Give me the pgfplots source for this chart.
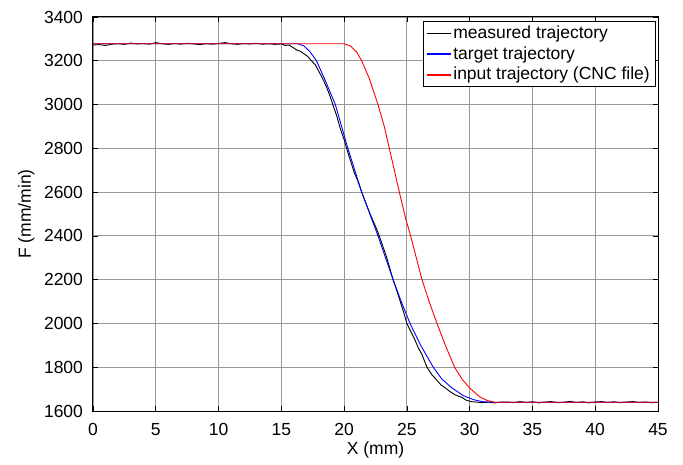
\documentclass[border=0pt]{standalone}
\usepackage{fontspec}
\setmainfont{Liberation Sans}
\usepackage{pgfplots}
\pgfplotsset{compat=1.18}
\begin{document}
\fontsize{17.5bp}{21bp}\selectfont
\begin{tikzpicture}
\begin{axis}[
  scale only axis,
  width=565bp, height=394bp,
  xmin=0, xmax=45, ymin=1600, ymax=3400,
  xtick={0,5,...,45},
  ytick={1600,1800,...,3400},
  /pgf/number format/assume math mode=true,
  /pgf/number format/1000 sep={},
  tick label style={font=\fontsize{17.5bp}{21bp}\selectfont},
  label style={font=\fontsize{17.5bp}{21bp}\selectfont},
  yticklabel style={xshift=-4bp},
  xticklabel style={yshift=-6bp},
  tick align=inside, tick pos=both,
  major tick length=5bp,
  major tick style={black, line width=0.6bp},
  grid=major,
  major grid style={black!40, line width=0.8bp},
  axis line style={black, line width=1bp},
  xlabel={X (mm)},
  ylabel={F (mm/min)},
  every axis x label/.style={at={(axis description cs:0.5,-0.099)}, anchor=center},
  every axis y label/.style={at={(axis description cs:-0.118,0.5)}, rotate=90, anchor=center},
  legend cell align=left,
  legend style={at={(rel axis cs:1,1)}, anchor=north east, xshift=-3bp, yshift=-4.5bp,
    draw=black, fill=white, inner xsep=3bp, inner ysep=2bp, row sep=1.5bp,
    font=\fontsize{17.5bp}{21bp}\selectfont},
  legend image code/.code={\draw[#1, line width=1.5bp] (0bp,0bp) -- (24bp,0bp);},
]
\addplot[color=black, line width=0.9bp] coordinates {
(0,3272) (0.5,3274) (1,3270) (1.5,3276) (2,3278) (2.5,3275) (3,3281) (3.5,3277)
(4,3279) (4.5,3276) (5,3283) (5.5,3278) (6,3275) (6.5,3279) (7,3276) (7.5,3280)
(8,3277) (8.5,3274) (9,3278) (9.5,3276) (10,3279) (10.5,3283) (11,3278) (11.5,3275)
(12,3279) (12.5,3277) (13,3280) (13.5,3276) (14,3278) (14.5,3275) (15,3277)
(15.3,3270) (15.6,3272) (15.9,3262) (16.2,3250) (16.5,3244) (16.8,3232) (17.1,3220)
(17.4,3200) (17.7,3182) (18,3150) (18.3,3118) (18.6,3080) (18.9,3035) (19.1,3000)
(19.4,2950) (19.7,2890) (20,2840) (20.2,2800) (20.5,2745) (20.8,2690) (21.1,2650)
(21.4,2600) (21.7,2555) (22,2510) (22.3,2470) (22.6,2430) (22.8,2400) (23.1,2350)
(23.4,2300) (23.6,2260) (23.9,2200) (24.2,2150) (24.5,2095) (24.8,2040) (25,2000)
(25.3,1965) (25.6,1930) (25.9,1890) (26.2,1858) (26.6,1800) (27,1765) (27.4,1740)
(27.7,1720) (28,1708) (28.4,1690) (28.8,1675) (29.1,1668) (29.4,1662) (29.7,1650)
(30.1,1643) (30.5,1641) (31,1638) (31.5,1640) (32,1637) (32.5,1641) (33,1641)
(33.5,1638) (34,1643) (34.5,1639) (35,1642) (35.5,1637) (36,1641) (36.5,1643)
(37,1638) (37.5,1640) (38,1644) (38.5,1639) (39,1642) (39.5,1637) (40,1641)
(40.5,1643) (41,1639) (41.5,1642) (42,1638) (42.5,1641) (43,1643) (43.5,1639)
(44,1641) (44.5,1638) (45,1640)
};
\addlegendentry{measured trajectory}
\addplot[color=blue, line width=0.9bp] coordinates {
(0,3278) (16.3,3278) (16.8,3268) (17.3,3240) (17.8,3200) (18.5,3110) (19.3,3000)
(20.3,2800) (21.4,2600) (22.05,2500) (22.7,2400) (23.3,2300) (23.9,2200) (24.55,2100)
(25.25,2000) (26.1,1900) (27.1,1800) (27.8,1745) (28.6,1705) (29.5,1670) (30.3,1652)
(31,1643) (31.7,1640) (45,1640)
};
\addlegendentry{target trajectory}
\addplot[color=red, line width=0.9bp] coordinates {
(0,3278) (20,3278) (20.5,3268) (21,3240) (21.4,3200) (22,3120) (22.7,3000) (23.2,2900)
(23.6,2800) (24,2700) (24.4,2600) (24.9,2480) (25.3,2400) (25.75,2300) (26.2,2200)
(26.8,2095) (27.4,2000) (28.1,1895) (28.8,1800) (29.4,1745) (30,1705) (30.8,1665)
(31.4,1648) (32,1640) (45,1640)
};
\addlegendentry{input trajectory (CNC file)}
\end{axis}
\path ([shift={(-93bp,-54bp)}]current axis.south west) rectangle ([shift={(25bp,17bp)}]current axis.north east);
\end{tikzpicture}
\end{document}
